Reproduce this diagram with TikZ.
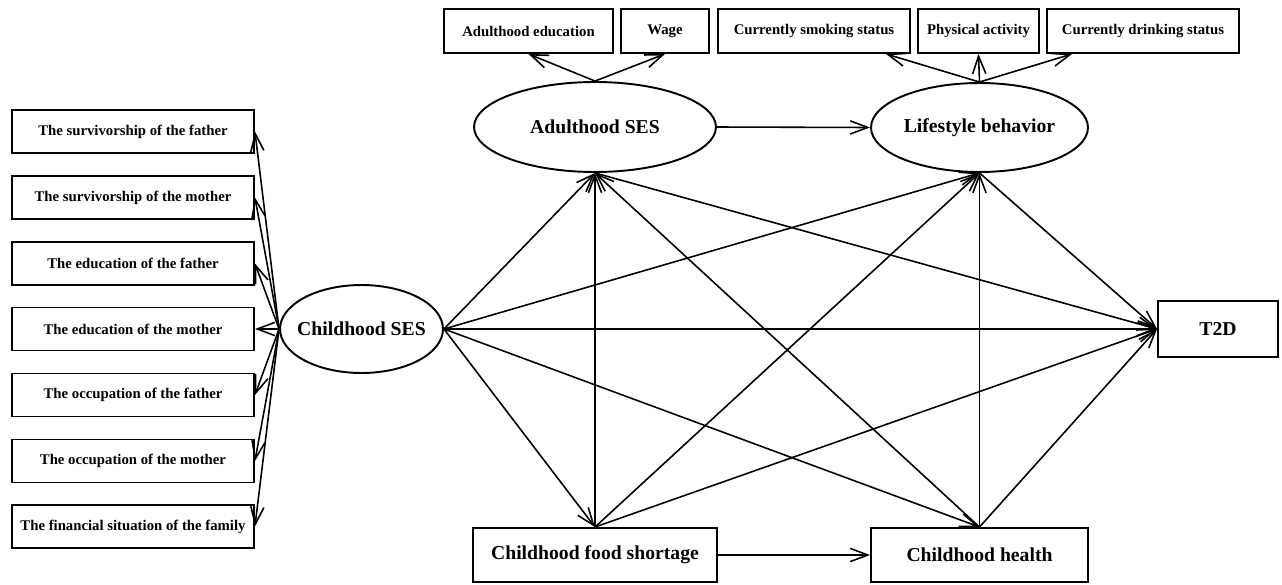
\documentclass[tikz,border=0pt]{standalone}
\usepackage{fontspec}
\setmainfont{Liberation Serif}
\usetikzlibrary{arrows.meta,shapes.geometric,calc}

\begin{document}
\begin{tikzpicture}[x=0.02cm,y=0.02cm]
\tikzstyle{every node}+=[inner sep=0pt]
\tikzstyle{item}=[draw, line width=1.1pt, rectangle, font=\fontsize{8.4}{10}\selectfont\bfseries]
\tikzstyle{latent}=[draw, line width=1.1pt, ellipse, inner xsep=-6pt, font=\fontsize{11.2}{13}\selectfont\bfseries]
\tikzstyle{factor}=[draw, line width=1.1pt, rectangle, font=\fontsize{11.2}{13}\selectfont\bfseries]
\tikzstyle{arr}=[line width=0.9pt, -{Straight Barb[length=10pt,width=7.5pt]}]
\fill [white] (0,0) rectangle (1282,-585);
\useasboundingbox (0,0) rectangle (1282,-585);
\node [item, minimum width=4.84cm, minimum height=0.86cm] (fsurv) at (133,-131.5) {The survivorship of the father};
\node [item, minimum width=4.84cm, minimum height=0.86cm] (msurv) at (133,-197.5) {The survivorship of the mother};
\node [item, minimum width=4.84cm, minimum height=0.86cm] (fedu) at (133,-263.5) {The education of the father};
\node [item, minimum width=4.84cm, minimum height=0.86cm] (medu) at (133,-329) {The education of the mother};
\node [item, minimum width=4.84cm, minimum height=0.86cm] (focc) at (133,-395) {The occupation of the father};
\node [item, minimum width=4.84cm, minimum height=0.86cm] (mocc) at (133,-461) {The occupation of the mother};
\node [item, minimum width=4.84cm, minimum height=0.86cm] (fin) at (133,-526.5) {The financial situation of the family};
\node [item, minimum width=3.38cm, minimum height=0.88cm] (aedu) at (528.5,-31) {Adulthood education};
\node [item, minimum width=1.76cm, minimum height=0.88cm] (wage) at (665,-31) {Wage};
\node [item, minimum width=3.84cm, minimum height=0.88cm] (smoke) at (814,-31) {Currently smoking status};
\node [item, minimum width=2.42cm, minimum height=0.88cm] (phys) at (978.5,-31) {Physical activity};
\node [item, minimum width=3.84cm, minimum height=0.88cm] (drink) at (1143,-31) {Currently drinking status};
\node [latent, minimum width=3.26cm, minimum height=1.76cm] (cses) at (361.5,-329) {Childhood SES};
\node [latent, minimum width=4.84cm, minimum height=1.8cm] (ases) at (595,-127) {Adulthood SES};
\node [latent, minimum width=4.34cm, minimum height=1.78cm] (life) at (979.5,-127.5) {Lifestyle behavior};
\node [factor, minimum width=4.88cm, minimum height=1.08cm] (food) at (595,-555) {Childhood food shortage};
\node [factor, minimum width=4.34cm, minimum height=1.08cm] (health) at (979.5,-555) {Childhood health};
\node [factor, minimum width=2.4cm, minimum height=1.12cm] (t2d) at (1218,-329) {T2D};
\draw [arr] (cses.west) -- (fsurv.east);
\draw [arr] (cses.west) -- (msurv.east);
\draw [arr] (cses.west) -- (fedu.east);
\draw [arr] (cses.west) -- (medu.east);
\draw [arr] (cses.west) -- (focc.east);
\draw [arr] (cses.west) -- (mocc.east);
\draw [arr] (cses.west) -- (fin.east);
\draw [arr] (ases.north) -- (aedu.south);
\draw [arr] (ases.north) -- (wage.south);
\draw [arr] (life.north) -- ($(smoke.south east)+(-25,0)$);
\draw [arr] (life.north) -- (phys.south);
\draw [arr] (life.north) -- ($(drink.south west)+(26,0)$);
\draw [arr] (ases.east) -- (life.west);
\draw [arr] (food.east) -- (health.west);
\draw [arr] (cses.east) -- (ases.south);
\draw [arr] (cses.east) -- (life.south);
\draw [arr] (cses.east) -- (t2d.west);
\draw [arr] (cses.east) -- (food.north);
\draw [arr] (cses.east) -- (health.north);
\draw [arr] (food.north) -- (ases.south);
\draw [arr] (food.north) -- (life.south);
\draw [arr] (food.north) -- (t2d.west);
\draw [arr] (health.north) -- (ases.south);
\draw [arr] (health.north) -- (life.south);
\draw [arr] (health.north) -- (t2d.west);
\draw [arr] (ases.south) -- (t2d.west);
\draw [arr] (life.south) -- (t2d.west);
\end{tikzpicture}
\end{document}
